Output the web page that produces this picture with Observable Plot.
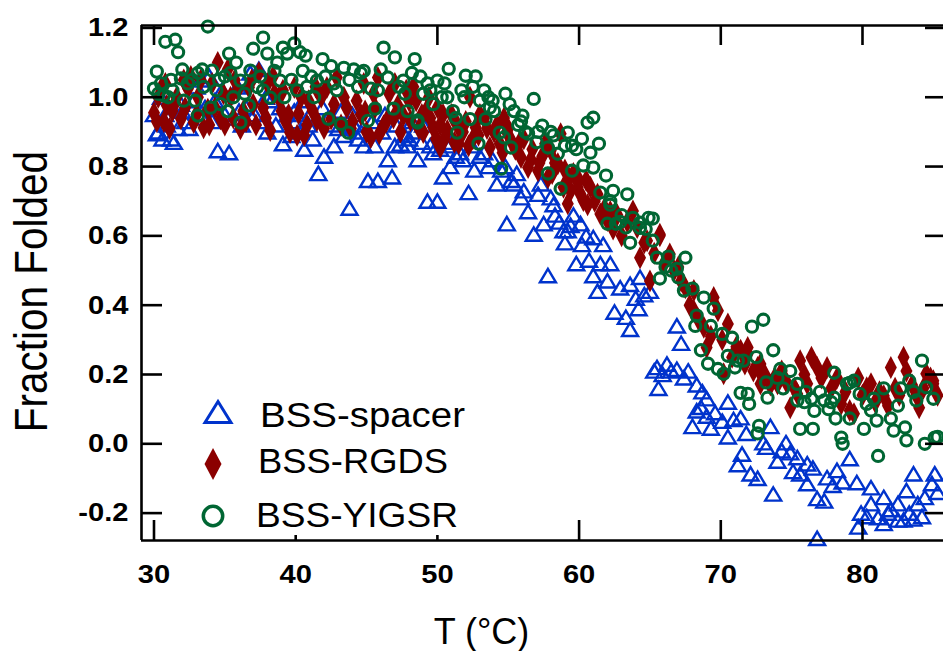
<!DOCTYPE html>
<html><head><meta charset="utf-8">
<script src="https://cdn.jsdelivr.net/npm/d3@7"></script>
<script src="https://cdn.jsdelivr.net/npm/@observablehq/plot@0.6"></script>
<style>html,body{margin:0;padding:0;background:#fff;} svg{display:block;}</style>
</head><body><div id="chart"></div>
<script>
// ---- data ----
const spacerT = [30.0,30.2,30.3,30.5,30.6,30.9,31.2,31.4,31.7,32.0,32.2,32.5,32.8,33.0,33.3,33.6,33.9,34.1,34.5,34.8,35.0,35.3,35.6,35.9,36.2,36.5,36.8,37.1,37.4,37.7,38.0,38.3,38.6,39.1,39.4,39.7,40.0,40.3,40.6,40.9,41.2,41.6,42.0,42.3,42.7,43.0,43.4,43.8,44.1,44.4,44.8,45.1,45.4,45.8,46.1,46.5,46.8,47.1,47.4,47.7,47.9,48.2,48.6,48.9,49.3,49.7,50.0,50.4,50.7,50.9,51.3,51.8,52.2,52.6,53.0,53.3,53.6,54.2,54.5,54.9,55.4,55.6,55.9,56.1,56.4,56.8,57.1,57.5,57.8,58.0,58.3,58.6,58.9,59.2,59.6,59.8,60.1,60.2,60.5,60.7,61.0,61.0,61.3,61.5,61.7,62.0,62.2,62.5,62.9,63.3,63.6,63.6,64.0,64.2,64.3,64.6,65.0,65.3,65.5,65.6,65.9,66.2,66.5,66.9,66.9,67.2,67.4,67.7,68.0,68.3,68.3,68.7,68.6,69.0,69.0,69.3,69.6,70.1,70.5,70.5,70.9,71.2,71.4,71.5,71.8,72.1,72.6,73.0,73.2,73.5,73.7,74.0,74.3,74.6,74.9,75.1,75.4,75.6,76.1,76.1,76.5,76.8,76.8,77.3,77.5,77.9,78.2,78.6,79.1,79.6,79.7,79.9,80.3,80.6,80.6,81.1,81.5,81.5,81.8,82.0,82.5,82.5,82.9,83.1,83.3,83.6,83.6,83.9,84.2,84.4,84.9,85.1,85.3,
  30.8,31.9,33.4,34.3,36.0,36.9,37.9,38.9,39.9,40.5,41.0,41.9,42.5,43.2,44.0,44.6,45.6,46.3,47.0,48.0,48.4,49.0,49.5,50.2,51.0,51.6,52.4,53.9,54.8,55.2,57.3,58.2,59.0,59.4];
const spacerF = [0.95,0.895,0.90,1.00,0.88,0.92,0.88,0.87,0.91,0.96,0.93,0.91,0.99,1.03,1.05,0.97,1.06,0.93,0.846,1.02,0.95,0.84,0.94,1.03,0.92,0.97,1.07,0.95,1.08,0.93,0.90,0.99,0.92,0.866,0.95,0.89,0.93,0.90,0.85,0.92,0.88,0.78,0.83,0.94,0.86,0.91,0.89,0.68,0.92,0.88,0.86,0.76,0.93,0.76,0.90,0.82,0.77,0.92,0.865,0.89,0.86,0.93,0.82,0.87,0.70,0.84,0.70,0.77,0.86,0.80,0.83,0.82,0.725,0.79,0.83,0.84,0.80,0.75,0.79,0.635,0.75,0.78,0.71,0.73,0.67,0.605,0.72,0.635,0.485,0.71,0.66,0.64,0.615,0.615,0.66,0.52,0.635,0.575,0.60,0.53,0.595,0.485,0.44,0.52,0.575,0.47,0.52,0.38,0.45,0.365,0.46,0.33,0.42,0.39,0.48,0.43,0.44,0.21,0.22,0.16,0.20,0.23,0.21,0.34,0.215,0.29,0.19,0.21,0.05,0.17,0.095,0.15,0.105,0.13,0.08,0.045,0.09,0.065,0.12,0.02,0.07,-0.06,0.075,-0.03,0.03,-0.087,-0.10,0.003,-0.01,0.05,-0.145,-0.05,-0.02,0.003,-0.026,-0.08,-0.04,-0.087,-0.058,-0.115,-0.07,-0.158,-0.273,-0.165,-0.098,-0.12,-0.077,-0.11,-0.043,-0.112,-0.24,-0.20,-0.21,-0.127,-0.173,-0.213,-0.155,-0.23,-0.20,-0.19,-0.22,-0.173,-0.22,-0.135,-0.20,-0.217,-0.087,-0.173,-0.21,-0.155,-0.115,-0.087,-0.14,
  0.95,0.98,0.94,0.99,0.96,0.94,1.0,0.97,0.96,0.99,0.95,0.97,0.92,0.96,0.95,0.90,0.86,0.95,0.86,0.88,0.90,0.92,0.86,0.85,0.87,0.84,0.86,0.82,0.80,0.76,0.75,0.69,0.58,0.63];

const rgdsT = [30.0,30.3,30.5,30.7,30.9,31.3,31.6,31.9,32.1,32.4,32.8,33.1,33.5,33.8,34.1,34.5,34.7,34.9,35.2,35.4,35.6,35.9,36.1,36.3,36.7,37.0,37.4,37.7,38.0,38.2,38.5,38.8,39.0,39.3,39.6,39.9,40.1,40.2,40.6,40.9,41.2,41.5,41.8,42.2,42.5,42.9,43.2,43.6,43.9,44.3,44.6,44.8,45.0,45.3,45.6,45.8,45.9,46.2,46.6,46.9,47.2,47.6,47.8,48.0,48.1,48.5,48.7,49.0,49.2,49.5,49.7,50.0,50.2,50.2,50.5,50.7,51.0,51.2,51.5,51.8,52.0,52.3,52.5,52.7,53.0,53.3,53.7,54.0,54.4,54.7,54.9,55.2,55.5,55.9,56.1,56.4,56.7,57.1,57.4,57.6,57.8,58.0,58.3,58.5,58.7,59.0,59.2,59.2,59.6,59.9,60.1,60.3,60.5,60.8,61.1,61.5,61.8,62.0,62.0,62.4,62.7,63.0,63.4,63.8,64.1,64.3,64.6,64.8,65.0,65.3,65.7,65.7,66.0,66.4,66.7,67.0,67.2,67.5,67.8,68.1,68.1,68.4,68.8,69.0,69.3,69.5,69.8,70.1,70.5,70.2,70.8,71.1,71.4,71.7,71.9,71.9,72.3,72.6,72.8,72.8,73.1,73.5,73.8,74.0,74.3,74.6,74.9,75.2,75.4,75.6,75.9,76.1,76.4,76.8,77.1,77.5,77.8,78.2,78.5,78.8,79.1,79.4,79.7,80.0,80.3,80.6,80.9,81.2,81.5,81.8,82.0,82.3,82.6,82.9,83.1,83.5,83.8,84.0,84.3,84.5,84.8,85.0,85.0,85.3,
  30.2,30.8,31.1,31.5,32.2,32.6,33.0,33.3,33.9,34.3,35.0,35.7,36.5,36.9,37.2,37.9,38.4,39.1,39.5,40.4,40.8,41.4,42.0,42.7,43.4,44.0,44.9,45.5,46.4,47.0,47.4,48.3,48.9,49.4,49.9,50.4,51.4,52.2,52.9,53.5,54.2,54.6,55.0,55.8,56.6,57.2,58.1,58.9,59.4,60.0,60.6,61.3,62.2];
const rgdsF = [0.955,1.00,1.025,0.93,0.976,0.96,1.00,0.938,1.05,1.025,0.927,1.00,0.912,0.965,1.04,1.10,0.938,1.01,1.08,1.00,0.94,1.02,0.909,0.96,1.028,0.98,1.071,0.97,1.04,0.904,1.01,1.0,0.96,0.93,0.898,1.028,0.89,0.952,0.89,0.99,0.96,0.933,1.0,1.028,0.937,1.057,0.92,0.97,0.91,0.99,0.95,1.04,0.90,0.884,0.97,1.057,0.895,0.918,1.01,0.94,0.976,0.947,1.02,0.99,0.933,0.99,0.91,0.898,0.96,0.94,0.913,0.97,0.855,0.92,0.88,0.904,0.95,0.87,0.866,0.90,0.93,1.0,0.88,0.913,0.95,0.94,0.855,0.90,0.866,0.94,0.90,0.875,0.85,0.826,0.88,0.797,0.85,0.788,0.83,0.866,0.768,0.846,0.81,0.808,0.895,0.79,0.76,0.693,0.78,0.74,0.72,0.702,0.76,0.74,0.70,0.663,0.68,0.644,0.652,0.62,0.66,0.60,0.64,0.672,0.624,0.537,0.58,0.586,0.47,0.55,0.605,0.60,0.52,0.548,0.50,0.51,0.47,0.45,0.40,0.442,0.384,0.36,0.336,0.278,0.31,0.422,0.384,0.30,0.346,0.202,0.25,0.28,0.27,0.23,0.26,0.278,0.21,0.22,0.23,0.173,0.20,0.17,0.19,0.173,0.21,0.18,0.104,0.16,0.144,0.24,0.20,0.173,0.25,0.22,0.19,0.22,0.16,0.19,0.115,0.15,0.096,0.087,0.19,0.14,0.162,0.173,0.12,0.15,0.139,0.11,0.22,0.16,0.14,0.25,0.21,0.17,0.14,0.104,0.16,0.202,0.19,0.182,0.173,0.14,
  0.93,1.04,0.91,0.985,0.97,1.06,0.95,1.05,0.92,0.97,0.92,1.05,0.93,1.05,0.92,0.94,1.06,1.02,0.95,1.0,0.92,1.03,0.91,0.98,1.0,0.93,0.96,1.01,0.93,1.04,0.90,1.03,0.95,1.0,0.88,0.95,0.92,0.86,0.89,0.91,0.92,0.84,0.91,0.87,0.82,0.81,0.78,0.74,0.73,0.76,0.69,0.72,0.67];

const yigsrT = [30.0,30.2,30.3,30.7,30.8,31.0,31.2,31.5,31.7,31.9,32.1,32.4,32.7,33.1,33.1,33.5,33.8,34.0,34.1,34.4,34.7,35.0,35.2,35.3,35.4,35.8,36.1,36.1,36.4,36.7,36.8,37.0,37.3,37.7,37.7,38.0,38.2,38.5,38.9,39.1,39.4,39.7,39.9,40.1,40.3,40.5,40.8,41.1,41.5,41.9,42.3,42.5,42.9,43.2,43.4,43.7,44.1,44.4,44.8,45.1,45.3,45.6,46.0,46.2,46.5,46.9,47.0,47.3,47.6,47.9,48.2,48.4,48.6,48.6,49.0,49.3,49.7,50.0,50.3,50.7,50.8,51.1,51.3,51.4,51.7,52.0,52.3,52.7,52.9,53.0,53.3,53.4,53.7,53.9,54.0,54.4,54.5,54.7,54.8,55.2,55.4,55.7,56.0,56.4,56.8,57.1,57.4,57.8,57.8,58.2,58.5,58.7,59.0,59.2,59.5,59.8,60.2,60.3,60.6,61.0,61.0,61.4,61.5,61.9,62.0,62.2,62.2,62.4,62.6,62.9,63.3,63.4,63.6,63.8,64.3,64.3,64.9,65.2,65.2,65.5,65.7,66.1,66.5,66.9,67.4,67.5,68.0,68.2,68.3,68.6,68.8,69.1,69.3,69.5,69.8,70.1,70.2,70.5,70.8,71.2,71.4,71.6,71.9,72.0,72.2,72.5,72.6,72.7,73.0,73.3,73.2,73.7,74.0,74.2,74.4,74.9,75.4,75.4,75.6,75.9,76.4,76.5,76.6,77.0,77.3,77.6,78.0,78.0,78.1,78.5,78.6,78.9,79.1,79.1,79.4,79.8,80.1,80.3,80.6,81.0,81.1,81.5,82.0,82.2,82.5,83.0,83.1,83.3,83.6,83.8,84.2,84.4,84.5,85.0,85.1,85.3,
  30.5,31.3,32.0,32.9,33.4,34.6,35.6,37.5,38.7,39.2,40.7,41.3,42.1,42.7,43.8,44.6,45.8,47.7,48.8,49.5,50.5,51.9,52.5,53.6,55.1,55.9,56.2,57.0,58.0,59.5,60.8,63.0,64.7,66.3,67.0,71.0,76.0,77.8,80.8,82.7];
const yigsrF = [1.025,1.074,1.01,1.005,1.16,1.0,1.05,1.166,1.13,1.054,0.99,1.04,1.05,1.07,0.947,1.03,1.204,0.97,1.077,1.02,0.98,1.06,0.96,1.126,1.07,1.10,0.927,1.048,1.01,0.976,1.077,1.14,1.03,1.172,1.02,1.126,0.999,1.076,1.048,1.143,1.126,1.05,1.155,1.02,1.13,1.076,1.03,1.06,1.048,1.11,0.938,1.09,1.02,0.923,1.085,0.898,1.08,1.03,1.076,0.932,1.025,0.967,1.08,1.143,1.057,0.967,1.115,1.03,1.048,0.96,1.07,1.11,0.927,0.933,1.01,1.04,0.98,1.048,1.00,1.0,1.082,0.96,0.94,0.898,1.02,1.062,0.937,1.06,0.866,0.99,1.02,0.937,0.97,0.99,0.96,0.898,0.794,0.884,1.01,0.855,0.96,0.92,0.947,0.895,0.995,0.90,0.918,0.855,0.78,0.89,0.837,0.736,0.86,0.898,0.788,0.85,0.88,0.803,0.927,0.941,0.797,0.866,0.725,0.774,0.635,0.70,0.69,0.73,0.635,0.64,0.624,0.72,0.58,0.652,0.623,0.638,0.652,0.65,0.586,0.537,0.477,0.51,0.50,0.505,0.442,0.537,0.448,0.34,0.37,0.27,0.422,0.231,0.34,0.39,0.216,0.317,0.202,0.254,0.306,0.24,0.147,0.24,0.144,0.115,0.338,0.25,0.03,0.052,0.358,0.133,0.177,0.27,0.19,0.216,0.16,0.21,0.173,0.125,0.043,0.12,0.13,0.043,0.095,0.15,0.125,0.10,0.205,0.133,0.073,0.018,0.0,0.173,0.073,0.176,0.182,0.144,0.043,0.115,0.096,0.067,-0.035,0.16,0.073,0.038,0.11,0.047,0.01,0.182,0.15,0.125,0.24,0.0,0.163,0.13,0.018,0.02,
  1.04,1.02,1.08,0.99,1.08,1.05,1.0,1.06,1.10,1.0,1.12,1.0,1.06,1.04,1.05,1.07,1.02,1.01,1.06,1.02,1.04,1.0,1.03,1.0,0.98,0.93,0.90,0.87,0.90,0.86,0.84,0.66,0.62,0.54,0.48,0.22,0.15,0.12,0.13,0.16];

const xTicks = [30,40,50,60,70,80];
const xTickLabels = ["30","40","50","60","70","80"];
const yTicks = [-0.2,0.0,0.2,0.4,0.6,0.8,1.0,1.2];
const yTickLabels = ["-0.2","0.0","0.2","0.4","0.6","0.8","1.0","1.2"];
const seriesNames = ["BSS-spacer","BSS-RGDS","BSS-YIGSR"];
const xTitle = "T (\u00B0C)";
const yTitle = "Fraction Folded";

// ---- styles ----
const colors = {spacer:"#0033cc", rgds:"#8b0000", yigsr:"#006633"};
const FONT = "'Liberation Sans', Arial, Helvetica, sans-serif";
const xDomain = [29.118, 85.717];
const yDomain = [-0.279, 1.207];

const rows = (T,F) => T.map((t,i)=>({t, f:F[i]}));
const spacer = rows(spacerT, spacerF);
const rgds = rows(rgdsT, rgdsF);
const yigsr = rows(yigsrT, yigsrF);

const triSym = {draw(c){ c.moveTo(0,-6.8); c.lineTo(8,6.6); c.lineTo(-8,6.6); c.closePath(); }};
const diaSym = {draw(c){ c.moveTo(0,-11.5); c.lineTo(6,0); c.lineTo(0,11.5); c.lineTo(-6,0); c.closePath(); }};

const W = 943, H = 651, mL = 141, mR = 0, mT = 25, mB = 111;
const innerW = W - mL - mR, innerH = H - mT - mB;

const plot = Plot.plot({
  width: W, height: H,
  marginLeft: mL, marginRight: mR, marginTop: mT, marginBottom: mB,
  style: {fontFamily: FONT, background: "white", overflow: "visible"},
  x: {domain: xDomain, axis: null},
  y: {domain: yDomain, axis: null},
  marks: [
    Plot.dot(spacer, {x:"t", y:"f", symbol: triSym, stroke: colors.spacer, fill: "none", strokeWidth: 2.4}),
    Plot.dot(rgds, {x:"t", y:"f", symbol: diaSym, fill: colors.rgds, stroke: "none"}),
    Plot.dot(yigsr, {x:"t", y:"f", r: 5.6, stroke: colors.yigsr, fill: "none", strokeWidth: 3.1}),
    // frame (top, bottom, left)
    Plot.ruleY([yDomain[0], yDomain[1]], {stroke: "black", strokeWidth: 2.6}),
    Plot.ruleX([xDomain[0]], {stroke: "black", strokeWidth: 2.6}),
    // inward ticks
    Plot.ruleX(xTicks, {stroke: "black", strokeWidth: 2.6, insetTop: innerH - 20}),
    Plot.ruleX(xTicks, {stroke: "black", strokeWidth: 2.6, insetBottom: innerH - 20}),
    Plot.ruleY(yTicks, {stroke: "black", strokeWidth: 2.6, insetRight: innerW - 21}),
    Plot.ruleY(yTicks, {stroke: "black", strokeWidth: 2.6, insetLeft: innerW - 18}),
    // tick labels
    Plot.text(xTicks, {x: d => d, text: (d,i) => xTickLabels[i], frameAnchor: "bottom", dy: 34, lineAnchor: "middle", fontSize: 26, fontWeight: "bold", fill: "black"}),
    Plot.text(yTicks, {y: d => d, text: (d,i) => yTickLabels[i], frameAnchor: "left", dx: -13, textAnchor: "end", lineAnchor: "middle", fontSize: 26, fontWeight: "bold", fill: "black"})
  ]
});

document.getElementById("chart").appendChild(plot);
const svg = d3.select(plot);

// stretch bold tick labels horizontally
svg.selectAll('g[font-weight="bold"] text').each(function(){
  const L = this.getComputedTextLength();
  this.setAttribute("textLength", (L*1.12).toFixed(1));
  this.setAttribute("lengthAdjust", "spacingAndGlyphs");
});

// axis titles
svg.append("text")
  .attr("transform", "translate(47,291.5) scale(1.15,1) rotate(-90)")
  .attr("text-anchor", "middle")
  .attr("font-family", FONT).attr("font-size", 40.5).attr("fill", "black")
  .text(yTitle);
svg.append("text")
  .attr("x", 481.5).attr("y", 644)
  .attr("text-anchor", "middle")
  .attr("font-family", FONT).attr("font-size", 36).attr("fill", "black")
  .text(xTitle);

// legend
const lg = svg.append("g");
lg.append("rect").attr("x", 195).attr("y", 392).attr("width", 280).attr("height", 143).attr("fill", "white");
lg.append("path").attr("d", "M218,401.5L231,422.5L205,422.5Z").attr("fill", "none").attr("stroke", colors.spacer).attr("stroke-width", 3);
lg.append("path").attr("d", "M213,448L221.5,464L213,480L204.5,464Z").attr("fill", colors.rgds);
lg.append("circle").attr("cx", 213).attr("cy", 516).attr("r", 9.7).attr("fill", "none").attr("stroke", colors.yigsr).attr("stroke-width", 3.5);
const legendText = [
  {y: 427, len: 205, x: 260},
  {y: 473, len: 190, x: 258},
  {y: 527, len: 202, x: 256}
];
seriesNames.forEach((name, i) => {
  lg.append("text").attr("x", legendText[i].x).attr("y", legendText[i].y)
    .attr("text-anchor", "start")
    .attr("font-family", FONT).attr("font-size", 35).attr("fill", "black")
    .attr("textLength", legendText[i].len).attr("lengthAdjust", "spacingAndGlyphs")
    .text(name);
});
</script>
</body></html>
